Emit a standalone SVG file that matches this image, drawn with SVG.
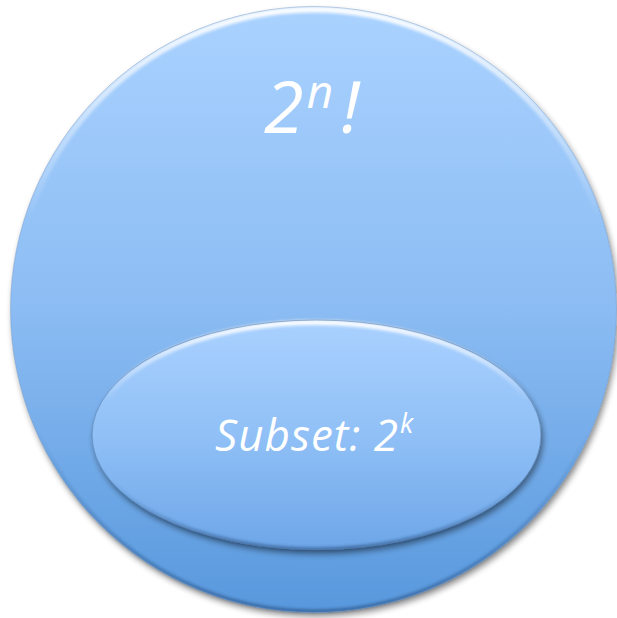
<svg xmlns="http://www.w3.org/2000/svg" width="617" height="618" viewBox="0 0 617 618">
  <defs>
    <linearGradient id="gBig" x1="0" y1="0" x2="0" y2="1">
      <stop offset="0" stop-color="#aad2ff"/>
      <stop offset="0.5" stop-color="#8bbcf3"/>
      <stop offset="1" stop-color="#5898dd"/>
    </linearGradient>
    <linearGradient id="gSmall" x1="0" y1="0" x2="0" y2="1">
      <stop offset="0" stop-color="#aad1ff"/>
      <stop offset="0.5" stop-color="#90c0f6"/>
      <stop offset="1" stop-color="#6da6e8"/>
    </linearGradient>
    <linearGradient id="gRimTop" x1="0" y1="0" x2="0" y2="1">
      <stop offset="0" stop-color="#ffffff" stop-opacity="0.95"/>
      <stop offset="0.35" stop-color="#ffffff" stop-opacity="0"/>
      <stop offset="1" stop-color="#ffffff" stop-opacity="0"/>
    </linearGradient>
    <linearGradient id="gRimBot" x1="0" y1="0" x2="0" y2="1">
      <stop offset="0" stop-color="#1c3d6a" stop-opacity="0"/>
      <stop offset="0.7" stop-color="#1c3d6a" stop-opacity="0"/>
      <stop offset="1" stop-color="#1c3d6a" stop-opacity="0.6"/>
    </linearGradient>
    <filter id="shadow" x="-10%" y="-10%" width="125%" height="125%">
      <feGaussianBlur in="SourceAlpha" stdDeviation="3"/>
      <feOffset dx="2" dy="4" result="b"/>
      <feComponentTransfer><feFuncA type="linear" slope="0.45"/></feComponentTransfer>
      <feMerge><feMergeNode/><feMergeNode in="SourceGraphic"/></feMerge>
    </filter>
    <filter id="blur2"><feGaussianBlur stdDeviation="1.5"/></filter>
  </defs>
  <style>
    .lbl { font-family: "Open Sans", "Noto Sans", "DejaVu Sans", sans-serif; font-style: italic; fill: #ffffff; }
  </style>

  <g id="universe">
    <circle cx="313.5" cy="309.5" r="303" fill="url(#gBig)" filter="url(#shadow)"/>
    <circle cx="313.5" cy="309.5" r="300" fill="none" stroke="url(#gRimTop)" stroke-width="6" filter="url(#blur2)"/>
    <circle cx="313.5" cy="309.5" r="301.5" fill="none" stroke="url(#gRimBot)" stroke-width="3" filter="url(#blur2)"/>
    <circle cx="313.5" cy="309.5" r="303" fill="none" stroke="#6f8fb8" stroke-width="0.8" stroke-opacity="0.5"/>
    <text class="lbl" x="264" y="133" font-size="72">2<tspan font-size="46" dy="-25" dx="3">n</tspan><tspan font-size="72" dy="25" dx="8">!</tspan></text>
  </g>

  <g id="subset">
    <ellipse cx="316.5" cy="435" rx="224.5" ry="115" fill="url(#gSmall)" filter="url(#shadow)"/>
    <ellipse cx="316.5" cy="435" rx="222" ry="112.5" fill="none" stroke="url(#gRimTop)" stroke-width="5" filter="url(#blur2)"/>
    <ellipse cx="316.5" cy="435" rx="223.5" ry="114" fill="none" stroke="url(#gRimBot)" stroke-width="3" filter="url(#blur2)"/>
    <ellipse cx="316.5" cy="435" rx="224.5" ry="115" fill="none" stroke="#4b6d98" stroke-width="0.8" stroke-opacity="0.6"/>
    <text class="lbl" x="215" y="451" font-size="44" letter-spacing="1">Subset: 2<tspan font-size="27" dy="-18" dx="1">k</tspan></text>
  </g>

  <g id="connectors"/>
</svg>
